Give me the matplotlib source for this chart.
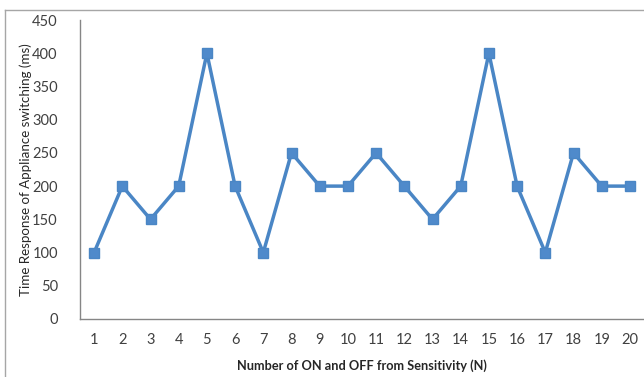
import matplotlib
matplotlib.use("Agg")
import matplotlib.pyplot as plt
from matplotlib.lines import Line2D

# ===================== DATA =====================
n_labels = [str(i) for i in range(1, 21)]
response_ms = [100, 200, 150, 200, 400, 200, 100, 250, 200, 200,
               250, 200, 150, 200, 400, 200, 100, 250, 200, 200]
y_ticks = [0, 50, 100, 150, 200, 250, 300, 350, 400, 450]

plt.rcParams["font.family"] = ["Lato", "DejaVu Sans"]

W, H = 644, 377
fig = plt.figure(figsize=(W / 100, H / 100), dpi=100)

# outer chart border (light grey), top and left visible
fig.add_artist(Line2D([5 / W, 5 / W], [0, 1 - 10 / H], transform=fig.transFigure,
                      color="#a6a6a6", linewidth=1.0))
fig.add_artist(Line2D([5 / W, 1], [1 - 10 / H, 1 - 10 / H], transform=fig.transFigure,
                      color="#a6a6a6", linewidth=1.0))

ax = fig.add_axes([80 / W, 1 - 319 / H, (644 - 80) / W, (319 - 20) / H])

x = list(range(len(n_labels)))
ax.plot(x, response_ms, color="#4a86c5", linewidth=2.5,
        marker="s", markersize=7, markerfacecolor="#4f8acb",
        markeredgecolor="#4a86c5")

ax.set_xlim(-0.5, len(n_labels) - 0.5)
ax.set_ylim(0, 450)
ax.set_xticks(x)
ax.set_xticklabels(n_labels)
ax.set_yticks(y_ticks)

for side in ["top", "right"]:
    ax.spines[side].set_visible(False)
for side in ["left", "bottom"]:
    ax.spines[side].set_color("#868686")
    ax.spines[side].set_linewidth(1.0)

ax.tick_params(axis="both", length=0, labelsize=10.5, colors="#404040")
ax.tick_params(axis="x", pad=10)
ax.tick_params(axis="y", pad=16)

ax.set_xlabel("Number of ON and OFF from Sensitivity (N)", fontsize=9.2,
              fontweight="bold", color="#262626", labelpad=9)
ax.set_ylabel("Time Response of Appliance switching (ms)", fontsize=9.6,
              color="#262626", labelpad=0)

fig.savefig("out.png", dpi=100)
